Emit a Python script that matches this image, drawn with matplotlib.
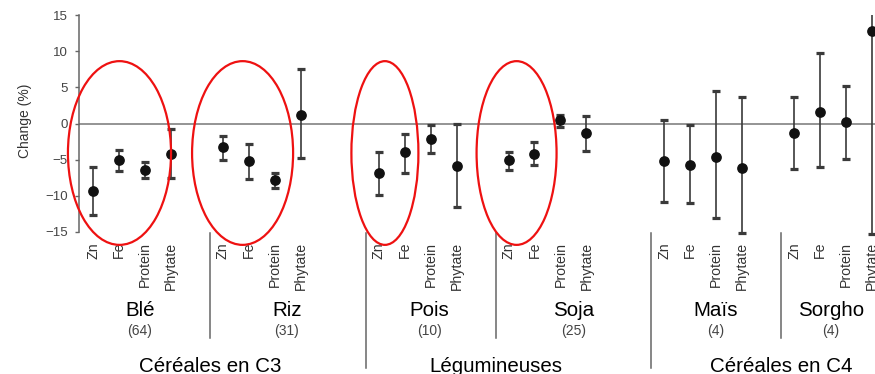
import matplotlib
matplotlib.use("Agg")
import matplotlib.pyplot as plt
from matplotlib.patches import Ellipse
from matplotlib import transforms
import numpy as np

plt.rcParams['font.family'] = ['Liberation Sans', 'DejaVu Sans']

# ---------------- data ----------------
metrics = ['Zn', 'Fe', 'Protein', 'Phytate']
crops = ['Blé', 'Riz', 'Pois', 'Soja', 'Maïs', 'Sorgho']
counts = ['(64)', '(31)', '(10)', '(25)', '(4)', '(4)']
groups = ['Céréales en C3', 'Légumineuses', 'Céréales en C4']

mean_ble = [-9.3, -5.0, -6.4, -4.2]
low_ble = [-12.7, -6.5, -7.6, -7.5]
high_ble = [-6.0, -3.7, -5.3, -0.8]

mean_riz = [-3.3, -5.2, -7.8, 1.2]
low_riz = [-5.1, -7.7, -8.85, -4.8]
high_riz = [-1.7, -2.9, -6.8, 7.5]

mean_pois = [-6.9, -4.0, -2.1, -5.9]
low_pois = [-9.95, -6.8, -4.1, -11.5]
high_pois = [-3.9, -1.5, -0.2, 0.0]

mean_soja = [-5.0, -4.15, 0.45, -1.3]
low_soja = [-6.45, -5.75, -0.5, -3.75]
high_soja = [-3.9, -2.55, 1.2, 1.1]

mean_mais = [-5.2, -5.75, -4.7, -6.1]
low_mais = [-10.8, -11.0, -13.0, -15.1]
high_mais = [0.55, -0.25, 4.5, 3.7]

mean_sorgho = [-1.3, 1.65, 0.15, 12.85]
low_sorgho = [-6.3, -6.0, -4.95, -15.3]
high_sorgho = [3.65, 9.7, 5.2, 20.0]

means = [mean_ble, mean_riz, mean_pois, mean_soja, mean_mais, mean_sorgho]
lows = [low_ble, low_riz, low_pois, low_soja, low_mais, low_sorgho]
highs = [high_ble, high_riz, high_pois, high_soja, high_mais, high_sorgho]

# ---------------- layout ----------------
crop_start = [0, 5, 11, 16, 22, 27]          # slot of the first metric of each crop
name_x = [1.81, 7.47, 12.94, 18.52, 23.99, 28.42]
group_x = [4.5, 15.5, 26.5]
short_sep = [4.5, 15.5, 26.5]
long_sep = [10.5, 21.5]
# ellipses (x centre, width) in slot units, y centre / height in data units
ell_x = [1.02, 5.76, 11.24, 16.31]
ell_w = [3.97, 3.89, 2.58, 3.08]
ell_y = -4.08
ell_h = 25.4

W, H = 875, 374
fig = plt.figure(figsize=(W / 100, H / 100), dpi=100)

ax_left_px, ax_top_px = 79, 15
ymin, ymax = -15.6, 15
px_per_unit = (232 - 15) / 30.0
ax_bottom_px = 15 + (ymax - ymin) * px_per_unit
ax = fig.add_axes([ax_left_px / W, 1 - ax_bottom_px / H,
                   (W - ax_left_px) / W, (ax_bottom_px - ax_top_px) / H])
slot_px = 25.97
ax.set_xlim((ax_left_px - 93) / slot_px, (W - 93) / slot_px)
ax.set_ylim(ymin, ymax)

for s in ['top', 'right', 'bottom']:
    ax.spines[s].set_visible(False)
ax.spines['left'].set_bounds(-15, 15)
ax.spines['left'].set_color('#666666')
ax.spines['left'].set_linewidth(1.1)
ax.set_yticks([-15, -10, -5, 0, 5, 10, 15])
ax.set_yticklabels(['\u221215', '\u221210', '\u22125', '0', '5', '10', '15'])
ax.tick_params(axis='y', length=3, width=1, color='#666666', pad=5,
               labelsize=9.5, labelcolor='#444444')
ax.set_xticks([])

ax.axhline(0, color='#777777', lw=1.1, zorder=1)

for i in range(len(crops)):
    xs = np.arange(len(metrics)) + crop_start[i]
    m = np.array(means[i])
    lo = np.array(lows[i])
    hi = np.array(highs[i])
    pl, caps, bars = ax.errorbar(xs, m, yerr=[m - lo, hi - m], fmt='o',
                                 color='#111111', ecolor='#3a3a3a',
                                 elinewidth=1.2, capsize=2.6, capthick=2.3,
                                 markersize=6.7, zorder=3)
    for c in caps:
        c.set_color('#111111')

# ellipses
for cx, w in zip(ell_x, ell_w):
    e = Ellipse((cx, ell_y), w, ell_h, fill=False, edgecolor='#ee1111',
                lw=1.6, clip_on=False, zorder=4)
    ax.add_patch(e)

tr = transforms.blended_transform_factory(ax.transData, fig.transFigure)

# metric labels
for i in range(len(crops)):
    for j, lab in enumerate(metrics):
        ax.text(crop_start[i] + j, 1 - 242 / H, lab, rotation=90,
                ha='center', va='top', fontsize=10.2, color='#333333',
                transform=tr, clip_on=False)
    ax.text(name_x[i], 1 - 316 / H, crops[i], ha='center', va='baseline',
            fontsize=14.8, color='black', transform=tr)
    ax.text(name_x[i], 1 - 331 / H, counts[i], ha='center', va='center',
            fontsize=10, color='#444444', transform=tr)

for gx, g in zip(group_x, groups):
    ax.text(gx, 1 - 372 / H, g, ha='center', va='baseline', fontsize=14.8,
            color='black', transform=tr)

for sx in short_sep:
    ax.plot([sx, sx], [1 - 233 / H, 1 - 338 / H], color='#666666', lw=1.1,
            transform=tr, clip_on=False)
for sx in long_sep:
    ax.plot([sx, sx], [1 - 233 / H, 1 - 368 / H], color='#666666', lw=1.1,
            transform=tr, clip_on=False)

fig.text(25 / W, 1 - 121 / H, 'Change (%)', rotation=90, ha='center',
         va='center', fontsize=10, color='#333333')

fig.savefig('out.png', dpi=100)
